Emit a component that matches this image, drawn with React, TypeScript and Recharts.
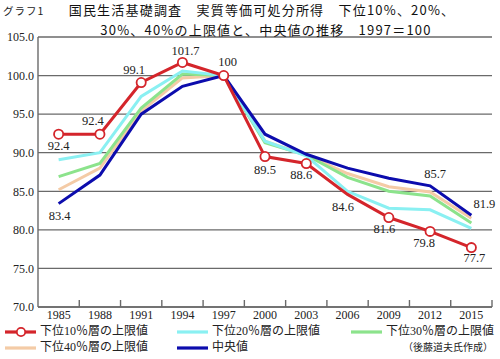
import { LineChart, Line, XAxis, YAxis, CartesianGrid } from "recharts";

const years = ["1985", "1988", "1991", "1994", "1997", "2000", "2003", "2006", "2009", "2012", "2015"];
const bottom10 = [92.4, 92.4, 99.1, 101.7, 100, 89.5, 88.6, 84.6, 81.6, 79.8, 77.7];
const bottom20 = [89.1, 90.0, 97.3, 100.6, 100, 91.5, 89.6, 85.0, 82.8, 82.6, 80.2];
const bottom30 = [86.9, 88.6, 95.8, 100.2, 100, 91.3, 89.7, 86.8, 85.0, 84.4, 80.9];
const bottom40 = [85.2, 88.0, 95.4, 99.7, 100, 91.5, 89.7, 87.3, 85.6, 84.9, 81.5];
const median = [83.4, 87.1, 95.0, 98.6, 100, 92.4, 89.8, 88.0, 86.7, 85.7, 81.9];
const yTicks = [70, 75, 80, 85, 90, 95, 100, 105];

const data = years.map((year, i) => ({
  year,
  b10: bottom10[i],
  b20: bottom20[i],
  b30: bottom30[i],
  b40: bottom40[i],
  med: median[i],
}));

// layout
const W = 500;
const H = 359;
const M = { top: 37, right: 8, left: 0, bottom: 32 };
const Y_W = 38;
const X_H = 20;
const PLOT_BOTTOM = H - M.bottom - X_H;
const BAND = (W - M.left - M.right - Y_W) / years.length;

const RED = "#d4252b";
const CYAN = "#8af0f2";
const GREEN = "#8ce38c";
const PEACH = "#f4cba6";
const BLUE = "#0c0cad";
const GRID = "#6a6a6a";

const SERIF = "'Liberation Serif', 'DejaVu Serif', serif";
const MIXED = "'Liberation Serif', 'Noto Sans CJK JP', serif";
const GOTHIC = "'Noto Sans CJK JP', 'Noto Sans', sans-serif";

// label offsets from the point (dx, dy)
const redLabelPos = [[0, 13], [-7, -12], [-7, -11], [3, -10.5], [4, -12], [0, 15], [-5, 13], [-4.5, 13.5], [-4.5, 13], [-6, 13], [3, 12]];
const medLabelPos: Record<number, number[]> = { 0: [1, 13], 9: [5, -11], 10: [13, -10] };

const XTick = (props: any) => {
  const { x, payload } = props;
  return (
    <g>
      <line x1={x + BAND / 2} x2={x + BAND / 2} y1={PLOT_BOTTOM} y2={PLOT_BOTTOM - 7} stroke={GRID} strokeWidth={1.4} />
      <text x={x} y={PLOT_BOTTOM + 12} textAnchor="middle" fontFamily={SERIF} fontSize={12} fill="#222">
        {payload.value}
      </text>
    </g>
  );
};

const redDot = (props: any) => {
  const { cx, cy, index } = props;
  if (index === 7) return <g key={`d-${index}`} />;
  return <circle key={`d-${index}`} cx={cx} cy={cy} r={4.6} fill="#fff" stroke={RED} strokeWidth={1.8} />;
};

const redLabel = (props: any) => {
  const { x, y, value, index } = props;
  const [dx, dy] = redLabelPos[index];
  return (
    <text key={`rl-${index}`} x={x + dx} y={y + dy} textAnchor="middle" dominantBaseline="middle" fontFamily={SERIF} fontSize={12.5} fill="#222">
      {value}
    </text>
  );
};

const medLabel = (props: any) => {
  const { x, y, value, index } = props;
  const pos = medLabelPos[index];
  if (!pos) return <g key={`ml-${index}`} />;
  return (
    <text key={`ml-${index}`} x={x + pos[0]} y={y + pos[1]} textAnchor="middle" dominantBaseline="middle" fontFamily={SERIF} fontSize={12.5} fill="#222">
      {value}
    </text>
  );
};

const LegendLine = ({ x, y, color, label, marker }: any) => (
  <g>
    <line x1={x} x2={x + 31} y1={y} y2={y} stroke={color} strokeWidth={3.2} />
    {marker && <circle cx={x + 16} cy={y} r={4.2} fill="#fff" stroke={color} strokeWidth={1.8} />}
    <text x={x + 35} y={y} dominantBaseline="middle" fontFamily={MIXED} fontSize={12} fill="#222">
      {label}
    </text>
  </g>
);

export default function App() {
  return (
    <div style={{ position: "absolute", left: 0, top: 0, width: W, height: H, background: "#fff" }}>
      <LineChart width={W} height={H} data={data} margin={M}>
        <CartesianGrid vertical={false} stroke={GRID} strokeWidth={1.3} />
        <XAxis
          dataKey="year"
          scale="band"
          height={X_H}
          tick={<XTick />}
          tickLine={false}
          axisLine={{ stroke: GRID, strokeWidth: 1.4 }}
          interval={0}
        />
        <YAxis
          domain={[70, 105]}
          ticks={yTicks}
          width={Y_W}
          tickFormatter={(v: number) => v.toFixed(1)}
          tickLine={false}
          tickSize={2}
          tickMargin={2}
          axisLine={{ stroke: GRID, strokeWidth: 1.4 }}
          tick={{ fontFamily: SERIF, fontSize: 12, fill: "#222" }}
          allowDataOverflow
        />
        <Line dataKey="b40" stroke={PEACH} strokeWidth={3} dot={false} isAnimationActive={false} />
        <Line dataKey="b30" stroke={GREEN} strokeWidth={3} dot={false} isAnimationActive={false} />
        <Line dataKey="b20" stroke={CYAN} strokeWidth={3} dot={false} isAnimationActive={false} />
        <Line dataKey="med" stroke={BLUE} strokeWidth={3} dot={false} label={medLabel} isAnimationActive={false} />
        <Line dataKey="b10" stroke={RED} strokeWidth={3} dot={redDot} label={redLabel} isAnimationActive={false} />
      </LineChart>
      <svg width={W} height={H} style={{ position: "absolute", left: 0, top: 0, pointerEvents: "none" }}>
        <text x={3} y={12} dominantBaseline="middle" fontFamily={GOTHIC} fontSize={10.5} letterSpacing={1} fill="#222">
          グラフ1
        </text>
        <text x={262} y={11.5} textAnchor="middle" dominantBaseline="middle" fontFamily={GOTHIC} fontSize={13} letterSpacing={1.2} fill="#111">
          国民生活基礎調査　実質等価可処分所得　下位10%、20%、
        </text>
        <text x={266} y={31} textAnchor="middle" dominantBaseline="middle" fontFamily={GOTHIC} fontSize={13} letterSpacing={1.2} fill="#111">
          30%、40%の上限値と、中央値の推移　1997＝100
        </text>
        <LegendLine x={5} y={332} color={RED} label="下位10％層の上限値" marker />
        <LegendLine x={177} y={332} color={CYAN} label="下位20％層の上限値" />
        <LegendLine x={351} y={332} color={GREEN} label="下位30％層の上限値" />
        <LegendLine x={5} y={348} color={PEACH} label="下位40％層の上限値" />
        <LegendLine x={177} y={348} color={BLUE} label="中央値" />
        <text x={493} y={348} textAnchor="end" dominantBaseline="middle" fontFamily={GOTHIC} fontSize={10} fill="#222">
          （後藤道夫氏作成）
        </text>
      </svg>
    </div>
  );
}
